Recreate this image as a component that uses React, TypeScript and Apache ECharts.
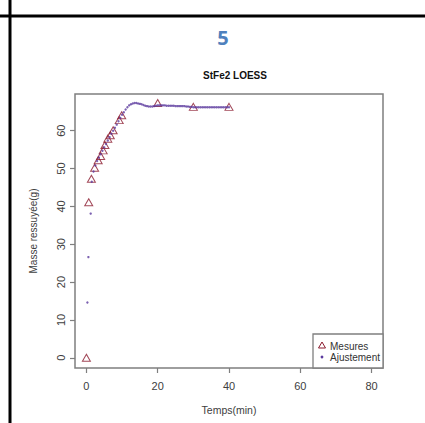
import React, { useEffect, useRef } from "react";
import * as echarts from "echarts";

// Measured drained mass (g) against time (min)
const mesuresTemps = [0, 0.65, 1.4, 2.3, 3.3, 4.0, 4.7, 5.2, 6.0, 6.7, 7.5, 9.2, 9.9, 20, 30, 40];
const mesuresMasse = [0, 41.1, 47.3, 50.2, 52.2, 53.3, 54.8, 56.2, 57.9, 58.8, 60.1, 62.8, 64.1, 67.3, 66.3, 66.3];

// LOESS fitted curve, evaluated on a fine time grid
const ajustTemps = [
  0.28, 0.56, 1.2, 1.5, 2.0, 2.5, 3.0, 3.5, 4.0, 4.5, 5.0, 5.5, 6.0, 6.5, 7.0, 7.5, 8.0, 8.5, 9.0, 9.5,
  10.0, 10.5, 11.0, 11.5, 12.0, 12.5, 13.0, 13.5, 14.0, 14.5, 15.0, 15.5, 16.0, 16.5, 17.0, 17.5, 18.0,
  18.5, 19.0, 19.5, 20.0, 20.5, 21.0, 21.5, 22.0, 22.5, 23.0, 23.5, 24.0, 24.5, 25.0, 25.5, 26.0, 26.5,
  27.0, 27.5, 28.0, 28.5, 29.0, 29.5, 30.0, 30.5, 31.0, 31.5, 32.0, 32.5, 33.0, 33.5, 34.0, 34.5, 35.0,
  35.5, 36.0, 36.5, 37.0, 37.5, 38.0, 38.5, 39.0, 39.5, 40.0,
];
const ajustMasse = [
  14.6, 26.6, 38.1, 46.5, 49.2, 50.8, 52.0, 52.9, 53.8, 54.7, 55.6, 56.5, 57.4, 58.3, 59.2, 60.0, 60.8, 61.6, 62.5, 63.4,
  64.2, 64.9, 65.6, 66.2, 66.7, 67.0, 67.2, 67.3, 67.3, 67.2, 67.1, 67.0, 66.8, 66.6, 66.5, 66.4, 66.4,
  66.4, 66.5, 66.6, 66.7, 66.7, 66.7, 66.7, 66.7, 66.6, 66.6, 66.6, 66.6, 66.6, 66.5, 66.5, 66.5, 66.5,
  66.5, 66.5, 66.4, 66.4, 66.3, 66.3, 66.2, 66.2, 66.2, 66.2, 66.2, 66.2, 66.2, 66.2, 66.2, 66.2, 66.2,
  66.2, 66.2, 66.2, 66.2, 66.2, 66.2, 66.2, 66.2, 66.2, 66.2,
];

const xTicks = [0, 20, 40, 60, 80];
const yTicks = [0, 10, 20, 30, 40, 50, 60];

const FONT = "Liberation Sans, Arial, sans-serif";
const MES_COLOR = "#8B1A2E";
const FIT_COLOR = "#5B3A9E";
const BOX_COLOR = "#7f7f7f";
const TXT_COLOR = "#404040";

export default function App() {
  const ref = useRef<HTMLDivElement>(null);

  useEffect(() => {
    if (!ref.current) return;
    const chart = echarts.init(ref.current, undefined, { renderer: "svg" });

    chart.setOption({
      animation: false,
      backgroundColor: "#ffffff",
      title: [
        {
          text: "5",
          left: 218,
          top: 22,
          textAlign: "center",
          textStyle: { fontFamily: "Open Sans, sans-serif", fontWeight: "bold", fontSize: 20, color: "#4F81BD" },
        },
        {
          text: "StFe2 LOESS",
          left: 230,
          top: 65,
          textAlign: "center",
          textStyle: { fontFamily: FONT, fontWeight: "bold", fontSize: 10, color: "#111111" },
        },
      ],
      grid: {
        left: 75,
        top: 94,
        width: 308,
        height: 274,
        show: true,
        borderColor: BOX_COLOR,
        borderWidth: 1.5,
        backgroundColor: "transparent",
      },
      xAxis: {
        type: "value",
        position: "bottom",
        min: -3.2,
        max: 83.2,
        name: "Temps(min)",
        nameLocation: "middle",
        nameGap: 36,
        nameTextStyle: { fontFamily: FONT, fontSize: 10.5, color: TXT_COLOR },
        axisLine: { show: false, onZero: false },
        splitLine: { show: false },
        axisTick: { show: true, inside: false, length: 5, lineStyle: { color: BOX_COLOR, width: 1.2 }, customValues: xTicks },
        axisLabel: { fontFamily: FONT, fontSize: 11, color: TXT_COLOR, margin: 12, customValues: xTicks },
      },
      yAxis: {
        type: "value",
        position: "left",
        min: -2.7,
        max: 69.7,
        name: "Masse ressuyée(g)",
        nameLocation: "middle",
        nameGap: 37,
        nameTextStyle: { fontFamily: FONT, fontSize: 10, color: TXT_COLOR },
        axisLine: { show: false, onZero: false },
        splitLine: { show: false },
        axisTick: { show: true, inside: false, length: 5, lineStyle: { color: BOX_COLOR, width: 1.2 }, customValues: yTicks },
        axisLabel: { fontFamily: FONT, fontSize: 11, color: TXT_COLOR, margin: 9, rotate: 90, customValues: yTicks },
      },
      series: [
        {
          name: "Mesures",
          type: "scatter",
          symbol: "triangle",
          symbolSize: [8, 7],
          itemStyle: { color: "rgba(255,255,255,0)", borderColor: MES_COLOR, borderWidth: 1 },
          data: mesuresTemps.map((t, i) => [t, mesuresMasse[i]]),
          z: 2,
        },
        {
          name: "Ajustement",
          type: "scatter",
          symbol: "circle",
          symbolSize: 2.4,
          itemStyle: { color: FIT_COLOR },
          data: ajustTemps.map((t, i) => [t, ajustMasse[i]]),
          z: 3,
        },
      ],
      graphic: [
        // table rules around the figure cell
        { type: "line", shape: { x1: 0, y1: 16, x2: 425, y2: 16 }, style: { stroke: "#000", lineWidth: 3 } },
        { type: "line", shape: { x1: 10, y1: 0, x2: 10, y2: 423 }, style: { stroke: "#000", lineWidth: 3 } },
        // legend box
        {
          type: "rect",
          shape: { x: 313, y: 334, width: 70, height: 34 },
          style: { fill: "#fff", stroke: BOX_COLOR, lineWidth: 1.3 },
          z: 10,
        },
        {
          type: "polygon",
          shape: { points: [[322, 342], [318.5, 348], [325.5, 348]] },
          style: { fill: "none", stroke: MES_COLOR, lineWidth: 1 },
          z: 11,
        },
        { type: "circle", shape: { cx: 322, cy: 357, r: 1.4 }, style: { fill: FIT_COLOR }, z: 11 },
        {
          type: "text",
          x: 330,
          y: 346,
          style: { text: "Mesures", fontFamily: FONT, fontSize: 10, fill: "#333", verticalAlign: "middle" },
          z: 11,
        },
        {
          type: "text",
          x: 330,
          y: 357.5,
          style: { text: "Ajustement", fontFamily: FONT, fontSize: 10, fill: "#333", verticalAlign: "middle" },
          z: 11,
        },
      ],
    });

    return () => chart.dispose();
  }, []);

  return <div ref={ref} style={{ position: "absolute", left: 0, top: 0, width: 425, height: 423 }} />;
}
